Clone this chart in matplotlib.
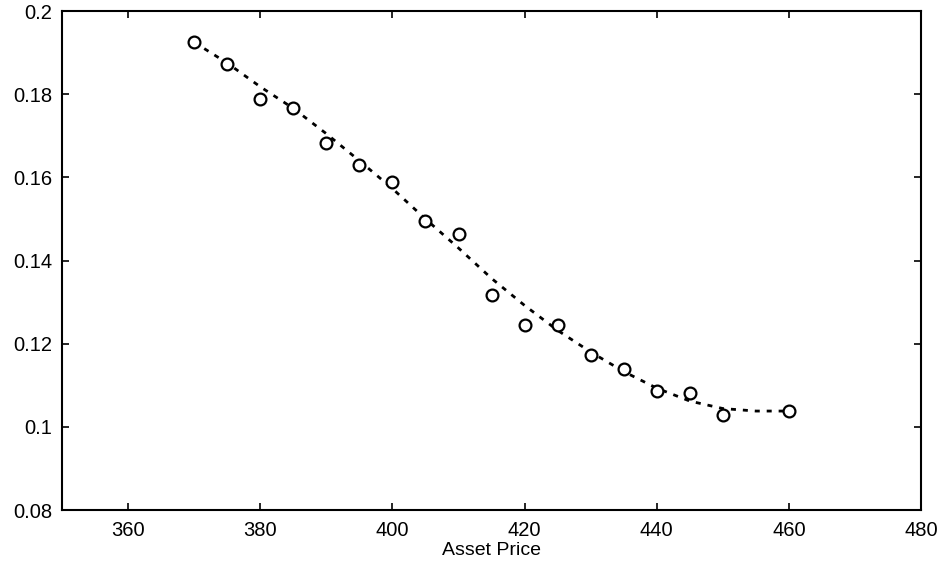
import matplotlib
matplotlib.use("Agg")
import matplotlib.pyplot as plt
from matplotlib.ticker import FuncFormatter

# data
asset_price = [370, 375, 380, 385, 390, 395, 400, 405, 410, 415,
               420, 425, 430, 435, 440, 445, 450, 460]
value = [0.1925, 0.1872, 0.1788, 0.1766, 0.1682, 0.1629, 0.1590, 0.1494, 0.1465, 0.1318,
         0.1246, 0.1246, 0.1173, 0.1140, 0.1087, 0.1082, 0.1029, 0.1039]

# smooth fitted curve (dotted)
fit_price = [370, 375, 380, 385, 390, 395, 400, 405, 410, 415,
             420, 425, 430, 435, 440, 445, 450, 455, 460]
fit_value = [0.1925, 0.1875, 0.1818, 0.1766, 0.1705, 0.1640, 0.1573, 0.1500, 0.1430, 0.1357,
             0.1292, 0.1232, 0.1180, 0.1133, 0.1093, 0.1062, 0.1044, 0.1038, 0.1038]

plt.rcParams['font.family'] = ['Liberation Sans', 'DejaVu Sans']

fig = plt.figure(figsize=(9.39, 5.67), dpi=100)
ax = fig.add_axes([0.066, 0.1005, 0.915, 0.88])

ax.plot(fit_price, fit_value, color='black', lw=2, linestyle=(0, (1.8, 2.5)))
ax.plot(asset_price, value, 'o', mfc='white', mec='black', ms=8.5, mew=1.6)

ax.set_xlim(350, 480)
ax.set_ylim(0.08, 0.2)
ax.set_xticks([360, 380, 400, 420, 440, 460, 480])
ax.set_yticks([0.08, 0.1, 0.12, 0.14, 0.16, 0.18, 0.2])
ax.yaxis.set_major_formatter(FuncFormatter(lambda v, p: '%g' % round(v, 3)))

ax.tick_params(direction='in', top=True, right=True, length=5, width=1.2,
               labelsize=14.5, pad=7)
ax.tick_params(axis='x', pad=8)
for s in ax.spines.values():
    s.set_linewidth(1.5)

ax.set_xlabel('Asset Price', fontsize=14, labelpad=1)

fig.savefig('out.png', dpi=100)
plt.close('all')
